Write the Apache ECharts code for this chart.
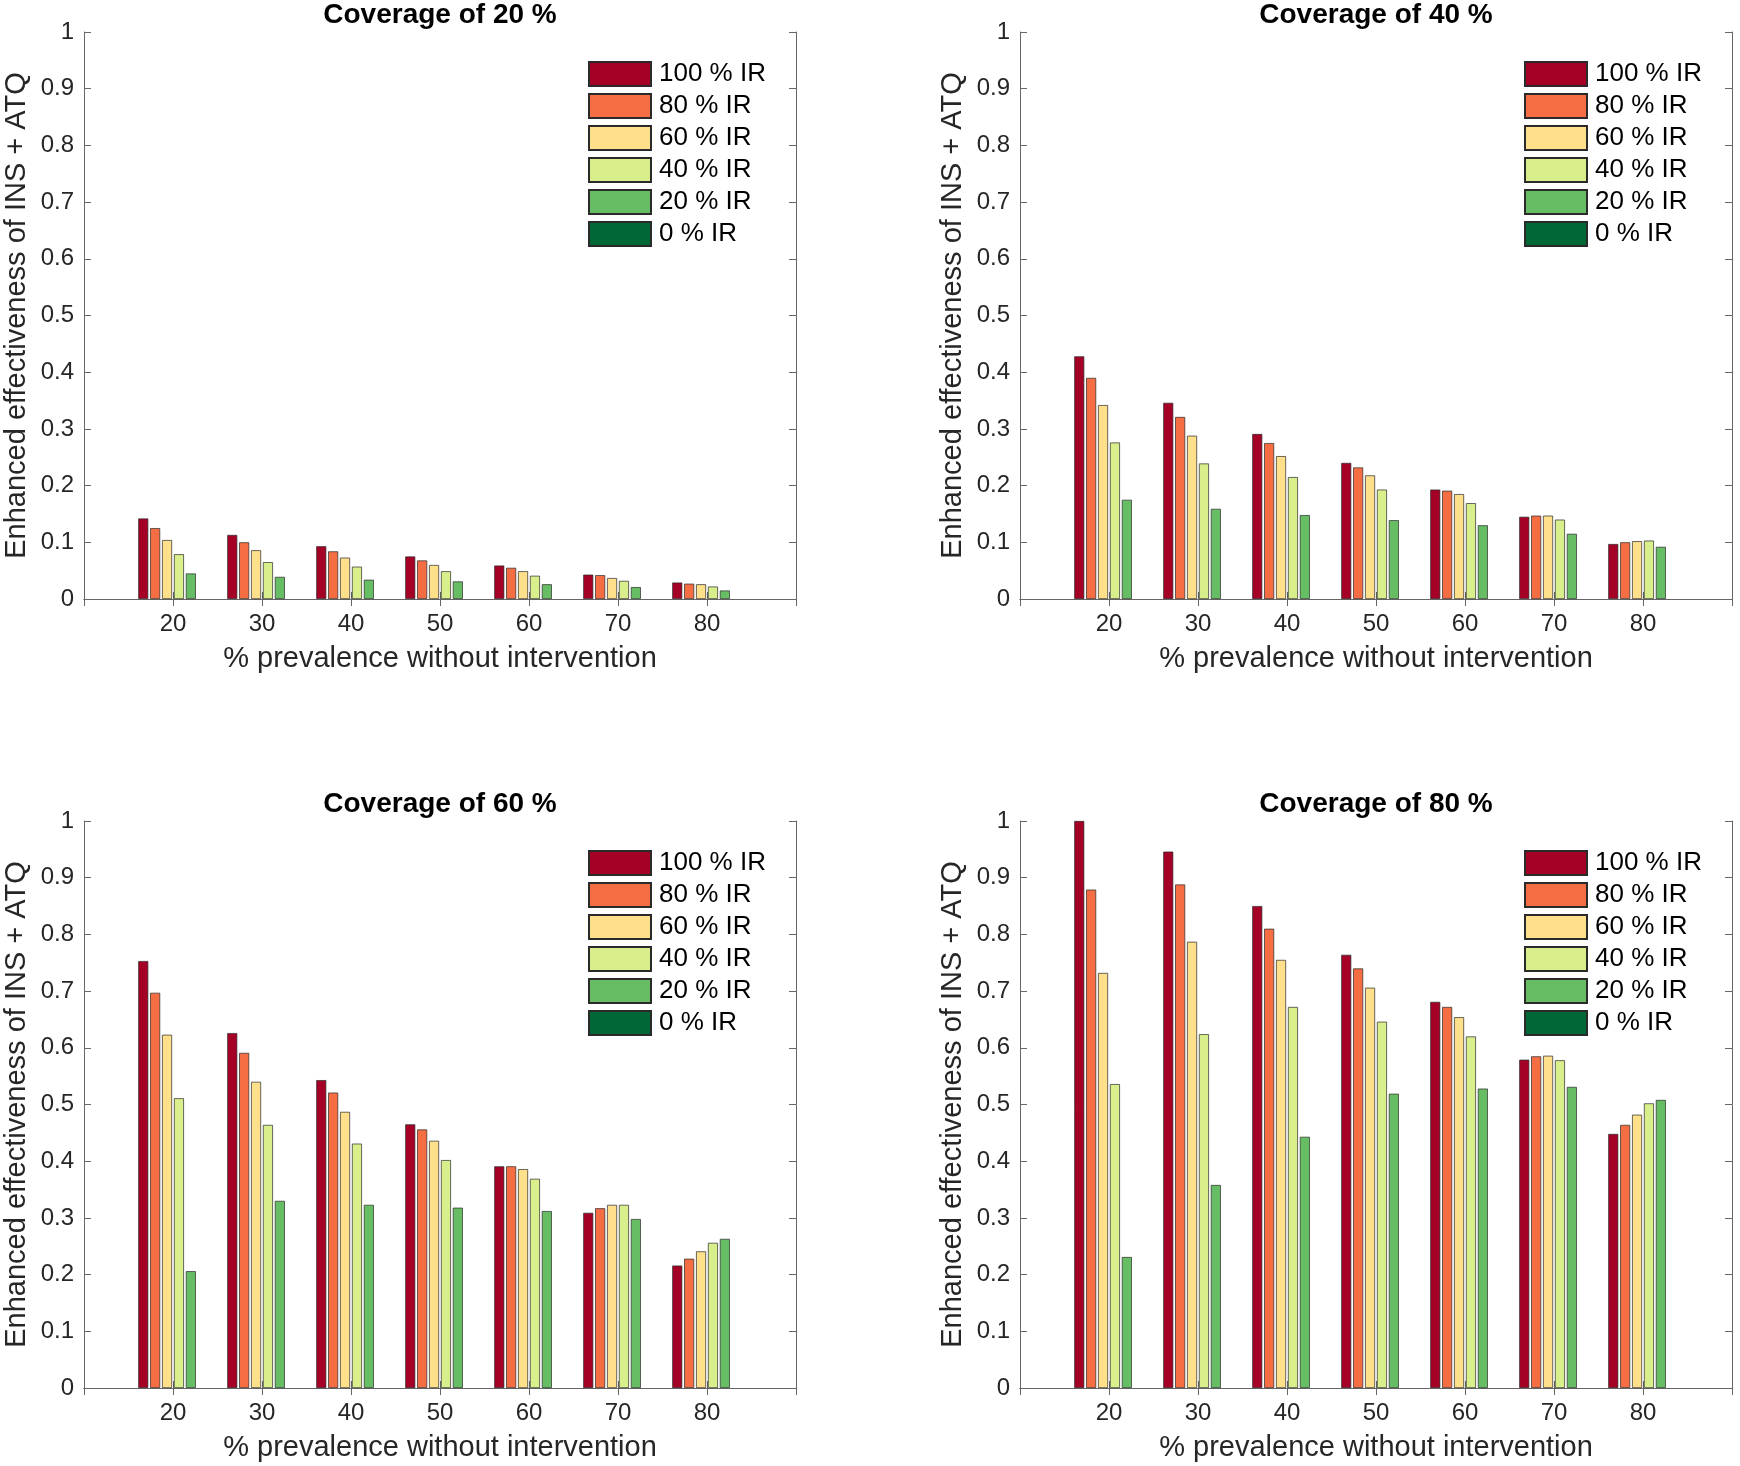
<!DOCTYPE html>
<html>
<head>
<meta charset="utf-8">
<script src="https://cdn.jsdelivr.net/npm/echarts@6/dist/echarts.min.js"></script>
<style>
html,body{margin:0;padding:0;background:#fff;}
#main{width:1740px;height:1466px;}
</style>
</head>
<body>
<div id="main"></div>
<script>
// x categories, 10 and 90 are only padding so the axis runs 10..90
var prevalence = ['10','20','30','40','50','60','70','80','90'];
var irNames = ['100 % IR','80 % IR','60 % IR','40 % IR','20 % IR','0 % IR'];
var irColors = ['#a50026','#f46d43','#fee08b','#d9ef8b','#66bd63','#006837'];
var titles = ['Coverage of 20 %','Coverage of 40 %','Coverage of 60 %','Coverage of 80 %'];

// rows: 100, 80, 60, 40, 20, 0 % IR ; columns: prevalence 20..80
var cov20 = [
    [0.142,0.113,0.093,0.075,0.059,0.043,0.029],
    [0.125,0.100,0.084,0.068,0.055,0.042,0.027],
    [0.104,0.086,0.073,0.060,0.049,0.037,0.026],
    [0.079,0.065,0.057,0.049,0.041,0.032,0.022],
    [0.045,0.039,0.034,0.031,0.026,0.021,0.015],
    [0,0,0,0,0,0,0]
];
var cov40 = [
    [0.428,0.346,0.291,0.240,0.193,0.145,0.097],
    [0.390,0.321,0.275,0.232,0.191,0.147,0.100],
    [0.342,0.288,0.252,0.218,0.185,0.147,0.102],
    [0.276,0.239,0.215,0.193,0.169,0.140,0.103],
    [0.175,0.159,0.148,0.139,0.130,0.115,0.092],
    [0,0,0,0,0,0,0]
];
var cov60 = [
    [0.753,0.626,0.543,0.465,0.391,0.309,0.216],
    [0.697,0.591,0.521,0.456,0.391,0.317,0.228],
    [0.623,0.540,0.487,0.436,0.386,0.323,0.241],
    [0.511,0.464,0.431,0.402,0.369,0.323,0.256],
    [0.206,0.330,0.323,0.318,0.312,0.298,0.263],
    [0,0,0,0,0,0,0]
];
var cov80 = [
    [1.000,0.946,0.850,0.764,0.681,0.579,0.448],
    [0.879,0.888,0.810,0.740,0.672,0.585,0.464],
    [0.732,0.787,0.755,0.706,0.654,0.586,0.482],
    [0.536,0.624,0.672,0.646,0.620,0.578,0.502],
    [0.231,0.358,0.443,0.519,0.528,0.531,0.508],
    [0,0,0,0,0,0,0]
];
var panels = [cov20, cov40, cov60, cov80];

var font = '"Liberation Sans", Helvetica, Arial, sans-serif';
var axisCol = '#666666';
var txtCol = '#262626';
var boxes = [
    {left:84, top:32},
    {left:1020, top:32},
    {left:84, top:821},
    {left:1020, top:821}
];
var W = 712, H = 567;

var grid = [], xAxis = [], yAxis = [], series = [], legend = [], title = [];

for (var g = 0; g < 4; g++) {
    var b = boxes[g];
    grid.push({left:b.left, top:b.top, width:W, height:H, containLabel:false});

    title.push({
        text: titles[g],
        left: b.left + W/2 - 5, top: b.top - 36,
        textAlign: 'center',
        textStyle: {fontFamily:font, fontSize:28, fontWeight:'bold', color:'#000'}
    });

    legend.push({
        data: irNames,
        orient: 'vertical',
        left: b.left + 504, top: b.top + 29,
        padding: 0,
        icon: 'rect',
        itemWidth: 62, itemHeight: 24, itemGap: 6,
        textStyle: {fontFamily:font, fontSize:26, lineHeight:24, color:'#000', padding:[0,0,0,3]}
    });

    // bottom x axis
    xAxis.push({
        type:'category', gridIndex:g, data:prevalence, boundaryGap:false,
        position:'bottom',
        name:'% prevalence without intervention', nameLocation:'middle', nameGap:45,
        nameTextStyle:{fontFamily:font, fontSize:29, color:txtCol},
        axisLine:{show:true, lineStyle:{color:axisCol, width:1}},
        axisTick:{show:true, inside:true, length:7, lineStyle:{color:axisCol}},
        axisLabel:{fontFamily:font, fontSize:24, color:txtCol, margin:13,
            formatter:function(v){ return (v === '10' || v === '90') ? '' : v; }},
        splitLine:{show:false}
    });
    // top x axis (box + mirrored ticks)
    xAxis.push({
        type:'category', gridIndex:g, data:prevalence, boundaryGap:false,
        position:'top',
        axisLine:{show:true, lineStyle:{color:axisCol, width:1}},
        axisTick:{show:true, inside:true, length:7, lineStyle:{color:axisCol}},
        axisLabel:{show:false},
        splitLine:{show:false}
    });
    yAxis.push({
        type:'value', gridIndex:g, min:0, max:1, interval:0.1,
        position:'left',
        name:'Enhanced effectiveness of INS + ATQ', nameLocation:'middle', nameGap:53,
        nameTextStyle:{fontFamily:font, fontSize:29, color:txtCol},
        axisLine:{show:true, lineStyle:{color:axisCol, width:1}},
        axisTick:{show:true, inside:true, length:7, lineStyle:{color:axisCol}},
        axisLabel:{fontFamily:font, fontSize:24, color:txtCol, margin:10},
        splitLine:{show:false}
    });
    yAxis.push({
        type:'value', gridIndex:g, min:0, max:1, interval:0.1,
        position:'right',
        axisLine:{show:true, lineStyle:{color:axisCol, width:1}},
        axisTick:{show:true, inside:true, length:7, lineStyle:{color:axisCol}},
        axisLabel:{show:false},
        splitLine:{show:false}
    });

    var rows = panels[g];
    for (var k = 0; k < irNames.length; k++) {
        // zero-height bars get no outline so nothing shows at the baseline
        var items = rows[k].map(function (v) {
            return v === 0 ? {value: v, itemStyle: {borderWidth: 0}} : v;
        });
        series.push({
            type:'bar',
            name: irNames[k],
            xAxisIndex: g*2, yAxisIndex: g*2,
            data: ['-'].concat(items).concat(['-']),
            barWidth: 10,
            barGap: '19%',
            itemStyle:{color:irColors[k], borderColor:'#2a2a2a', borderWidth:0.7},
            emphasis:{disabled:true}
        });
    }
}

var myChart = echarts.init(document.getElementById('main'));
myChart.setOption({
    animation:false,
    backgroundColor:'#fff',
    title:title,
    legend:legend,
    grid:grid,
    xAxis:xAxis,
    yAxis:yAxis,
    series:series
});
</script>
</body>
</html>
